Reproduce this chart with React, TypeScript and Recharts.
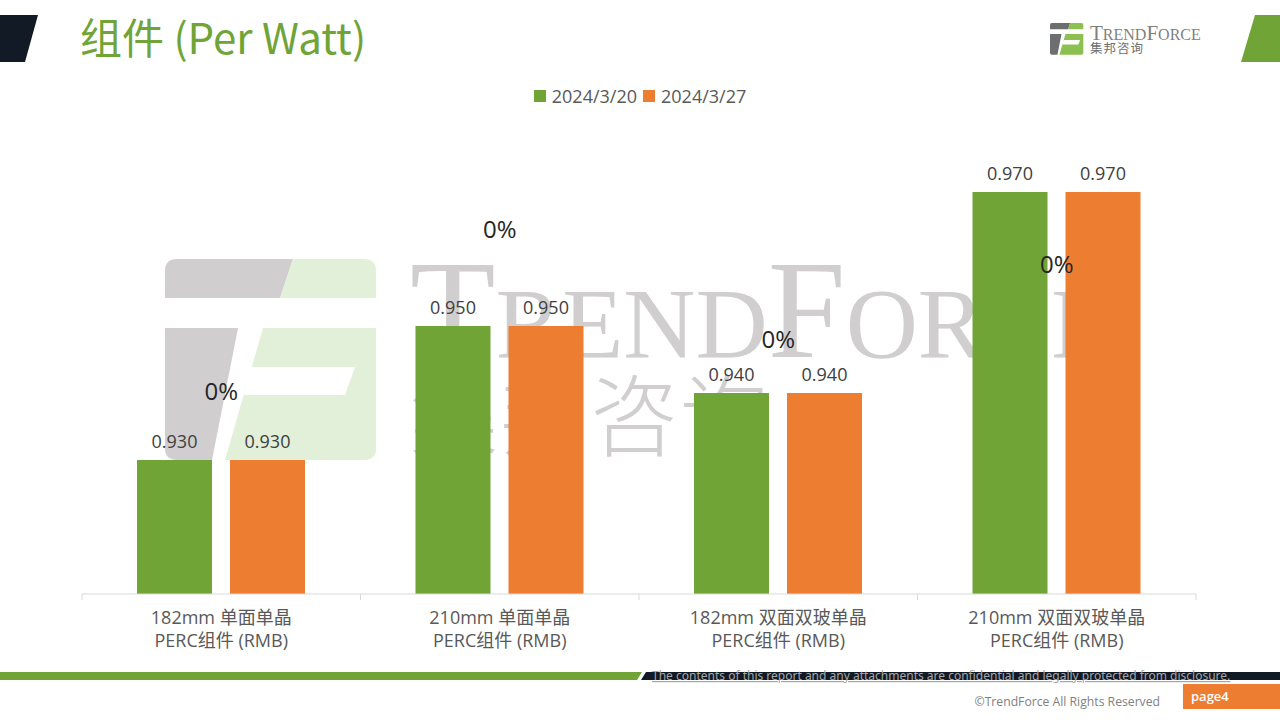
import { BarChart, Bar, Line, XAxis, YAxis, Legend, LabelList } from "recharts"

const categoryLine1 = ["182mm 单面单晶", "210mm 单面单晶", "182mm 双面双玻单晶", "210mm 双面双玻单晶"]
const categoryLine2 = ["PERC组件 (RMB)", "PERC组件 (RMB)", "PERC组件 (RMB)", "PERC组件 (RMB)"]
const price0320 = [0.93, 0.95, 0.94, 0.97]
const price0327 = [0.93, 0.95, 0.94, 0.97]
const changeText = ["0%", "0%", "0%", "0%"]
// where the floating change labels sit, read in y-axis units
const changeLevel = [0.9403, 0.9645, 0.9482, 0.9594]

const seriesNames = ["2024/3/20", "2024/3/27"]
const GREEN = "#70a436"
const ORANGE = "#ed7d31"

const data = categoryLine1.map((c, i) => ({
  category: c,
  line2: categoryLine2[i],
  a: price0320[i],
  b: price0327[i],
  change: changeText[i],
  changePos: changeLevel[i],
}))

const W = 1280
const H = 720
const margin = { top: 125, right: 84, left: 82, bottom: 66 }
const band = (W - margin.left - margin.right) / data.length
const font = "'Open Sans', 'Noto Sans CJK SC', sans-serif"

function CategoryTick(props: any) {
  const { x, y, payload, index } = props
  const row = data[index] || data.find((d) => d.category === payload.value)
  return (
    <g>
      <line x1={x - band / 2} x2={x - band / 2} y1={y - 8} y2={y - 2} stroke="#d9d9d9" />
      {index === data.length - 1 && (
        <line x1={x + band / 2} x2={x + band / 2} y1={y - 8} y2={y - 2} stroke="#d9d9d9" />
      )}
      <text x={x} y={y + 22} textAnchor="middle" fontSize={18} fill="#595959" fontFamily={font}>
        {payload.value}
      </text>
      <text x={x} y={y + 45} textAnchor="middle" fontSize={18} fill="#595959" fontFamily={font}>
        {row ? row.line2 : ""}
      </text>
    </g>
  )
}

function ChangeLabel(props: any) {
  const { x, y, value } = props
  return (
    <text x={x} y={y} textAnchor="middle" dominantBaseline="central" fontSize={24} fill="#262626" fontFamily={font}>
      {value}
    </text>
  )
}

function LegendBox() {
  const colors = [GREEN, ORANGE]
  return (
    <div style={{ display: "flex", justifyContent: "center", alignItems: "center", fontFamily: font, fontSize: 18, color: "#595959" }}>
      {seriesNames.map((n, i) => (
        <div key={n} style={{ display: "flex", alignItems: "center", marginRight: i === 0 ? 6 : 0 }}>
          <span style={{ width: 12, height: 12, background: colors[i], display: "inline-block", marginRight: 6 }} />
          <span>{n}</span>
        </div>
      ))}
    </div>
  )
}

// TrendForce mark, drawn in a 211 x 201 box
function LogoMark({ x, y, s, gray, green }: { x: number; y: number; s: number; gray: string; green: string }) {
  return (
    <g transform={`translate(${x},${y}) scale(${s})`}>
      <path d="M12 0 L128 0 L115 39 L0 39 L0 12 Q0 0 12 0 Z" fill={gray} />
      <path d="M128 0 L199 0 Q211 0 211 12 L211 39 L115 39 Z" fill={green} />
      <path d="M0 69 L73 69 L47 201 L12 201 Q0 201 0 189 Z" fill={gray} />
      <path d="M98 69 L211 69 L211 189 Q211 201 199 201 L60 201 Z" fill={green} />
      <path d="M86 108 L190 108 L180 136 L79 136 Z" fill="#fff" />
    </g>
  )
}

function Watermark() {
  const c = "#d0cece"
  return (
    <svg width={W} height={H} style={{ position: "absolute", left: 0, top: 0 }}>
      <LogoMark x={165} y={259} s={1} gray={c} green="#e2efd9" />
      <text x={410} y={357} fill={c} fontFamily="'Liberation Serif', serif">
        <tspan fontSize={140}>T</tspan>
        <tspan fontSize={100}>REND</tspan>
        <tspan fontSize={140}>F</tspan>
        <tspan fontSize={100}>ORCE</tspan>
      </text>
      <text x={410} y={448} fill={c} fontSize={88} fontWeight={300} fontFamily="'Noto Sans CJK SC', sans-serif" letterSpacing={2}>
        集邦咨询
      </text>
    </svg>
  )
}

function Decor() {
  return (
    <svg width={W} height={H} style={{ position: "absolute", left: 0, top: 0, pointerEvents: "none" }}>
      <polygon points="0,15 38,15 25,62 0,62" fill="#121a26" />
      <polygon points="1255,15 1280,15 1280,62 1241,62" fill={GREEN} />
      <text x={80} y={54} fontSize={42} fill={GREEN} fontFamily="'Noto Sans CJK SC', 'Open Sans', sans-serif">
        组件 (Per Watt)
      </text>
      <LogoMark x={1050} y={23} s={0.158} gray="#6d6e70" green="#8cc152" />
      <text x={1090} y={40} fill="#7f7f7f" fontFamily="'Liberation Serif', serif">
        <tspan fontSize={21}>T</tspan>
        <tspan fontSize={16}>REND</tspan>
        <tspan fontSize={21}>F</tspan>
        <tspan fontSize={16}>ORCE</tspan>
      </text>
      <text x={1090} y={53} fontSize={12.5} fill="#6d6e70" fontFamily="'Noto Sans CJK SC', sans-serif" letterSpacing={1}>
        集邦咨询
      </text>
      <polygon points="0,672 642,672 637,680 0,680" fill={GREEN} />
      <polygon points="646,672 1280,672 1280,680 641,680" fill="#121a26" />
      <text x={652} y={680} fontSize={12} fill="#a6a6a6" fontFamily="'Noto Sans', sans-serif" textDecoration="underline">
        The contents of this report and any attachments are confidential and legally protected from disclosure.
      </text>
      <text x={1160} y={706} textAnchor="end" fontSize={12.2} fill="#7f7f7f" fontFamily="'Open Sans', sans-serif">
        ©TrendForce All Rights Reserved
      </text>
      <rect x={1183} y={684} width={97} height={25} fill={ORANGE} />
      <text x={1191} y={701} fontSize={13} fill="#fff" fontWeight={600} fontFamily="'Open Sans', sans-serif">
        page4
      </text>
    </svg>
  )
}

export default function App() {
  return (
    <div style={{ position: "absolute", left: 0, top: 0, width: W, height: H, overflow: "hidden", background: "#fff" }}>
      <Watermark />
      <div style={{ position: "absolute", left: 0, top: 0 }}>
        <BarChart width={W} height={H} data={data} margin={margin} barGap={18} barSize={75}>
          <XAxis
            dataKey="category"
            height={60}
            interval={0}
            tickLine={false}
            axisLine={{ stroke: "#d9d9d9" }}
            tick={<CategoryTick />}
          />
          <YAxis hide domain={[0.91, 0.98]} width={0} />
          <Legend
            verticalAlign="top"
            content={<LegendBox />}
            wrapperStyle={{ top: 84, left: 0, width: W, height: 0, overflow: "visible" }}
          />
          <Bar dataKey="a" name={seriesNames[0]} fill={GREEN} isAnimationActive={false}>
            <LabelList dataKey="a" position="top" offset={12} fontSize={18} fill="#404040" fontFamily={font} formatter={(v: any) => Number(v).toFixed(3)} />
          </Bar>
          <Bar dataKey="b" name={seriesNames[1]} fill={ORANGE} isAnimationActive={false}>
            <LabelList dataKey="b" position="top" offset={12} fontSize={18} fill="#404040" fontFamily={font} formatter={(v: any) => Number(v).toFixed(3)} />
          </Bar>
          <Line
            dataKey="changePos"
            stroke="none"
            dot={false}
            activeDot={false}
            legendType="none"
            isAnimationActive={false}
          >
            <LabelList dataKey="change" content={<ChangeLabel />} />
          </Line>
        </BarChart>
      </div>
      <Decor />
    </div>
  )
}
